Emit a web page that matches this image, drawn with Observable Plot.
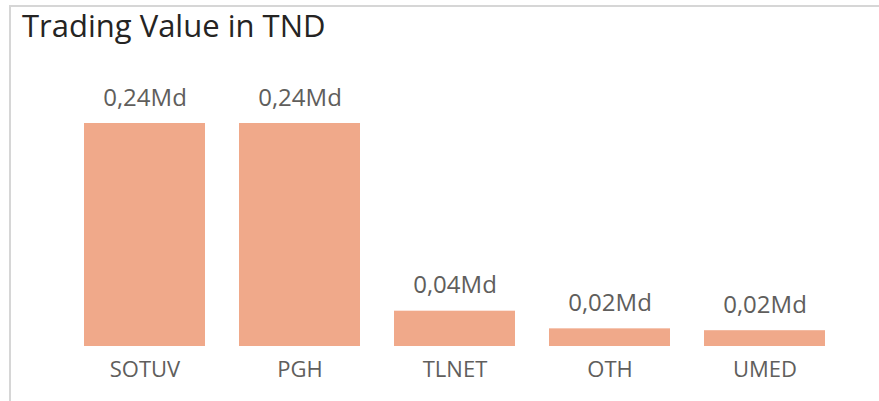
<!DOCTYPE html>
<html>
<head>
<meta charset="utf-8">
<script src="https://cdn.jsdelivr.net/npm/d3@7"></script>
<script src="https://cdn.jsdelivr.net/npm/@observablehq/plot@0.6"></script>
<style>
  html, body { margin: 0; padding: 0; background: #fff; }
  #wrap { position: relative; width: 879px; height: 401px; overflow: hidden; }
  #frame { position: absolute; left: 9px; top: 5px; width: 870px; height: 400px;
           border-top: 2px solid #d6d6d6; border-left: 2px solid #d6d6d6; box-sizing: border-box; }
  #title { position: absolute; left: 22px; top: 10px; font-family: "Open Sans", sans-serif;
           font-size: 31px; line-height: 30px; color: #252423; white-space: nowrap; }
  #chart { position: absolute; left: 0; top: 50px; }
</style>
</head>
<body>
<div id="wrap">
  <div id="frame"></div>
  <div id="title">Trading Value in TND</div>
  <div id="chart"></div>
</div>
<script>
const categories = ["SOTUV", "PGH", "TLNET", "OTH", "UMED"];
const values = [0.24, 0.24, 0.038, 0.019, 0.017]; // billions TND (Md)

const data = categories.map((c, i) => ({category: c, value: values[i]}));
const fmt = v => d3.format(".2f")(v).replace(".", ",") + "Md";

const plot = Plot.plot({
  width: 879,
  height: 351,
  marginLeft: 66,
  marginRight: 37,
  marginTop: 73,
  marginBottom: 55,
  style: {fontFamily: "'Open Sans', sans-serif", background: "transparent"},
  x: {domain: categories, paddingInner: 0.22, paddingOuter: 0.11, label: null},
  y: {domain: [0, 0.24], axis: null},
  marks: [
    Plot.barY(data, {x: "category", y: "value", fill: "#F0A98A"}),
    Plot.text(data, {x: "category", y: "value", text: d => fmt(d.value),
      lineAnchor: "bottom", dy: -18, fontSize: 24, fill: "#605E5C"}),
    Plot.axisX({tickSize: 0, tickPadding: 15, fontSize: 22, color: "#605E5C", label: null})
  ]
});
document.getElementById("chart").appendChild(plot);
</script>
</body>
</html>
